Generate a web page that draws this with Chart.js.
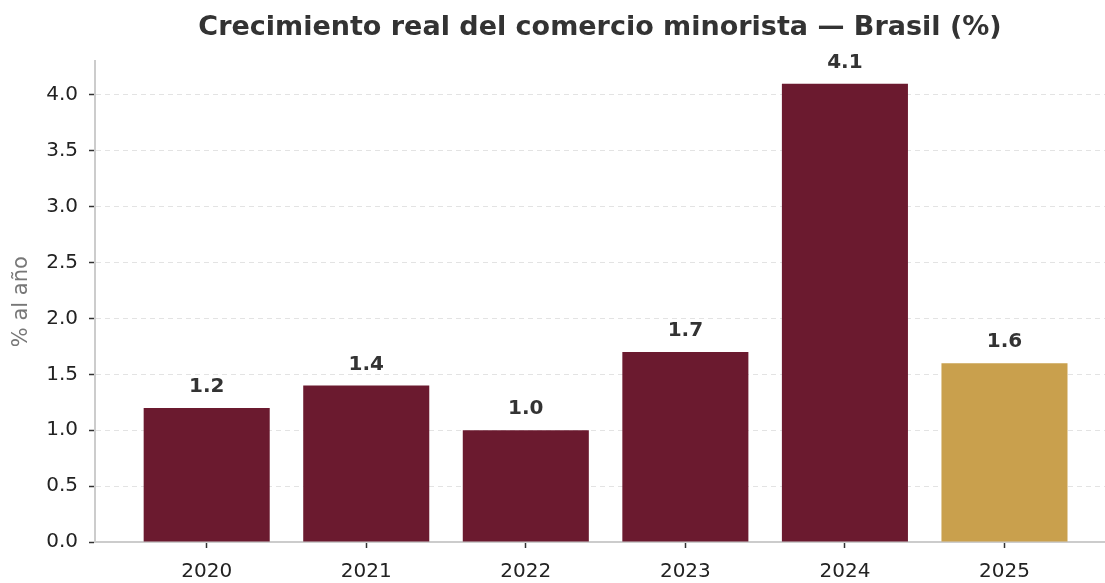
<!DOCTYPE html>
<html>
<head>
<meta charset="utf-8">
<script src="https://cdn.jsdelivr.net/npm/chart.js@4/dist/chart.umd.min.js"></script>
<style>
  html, body { margin: 0; padding: 0; background: #fff; }
  #wrap { width: 1105px; height: 583px; }
</style>
</head>
<body>
<div id="wrap"><canvas id="retailChart"></canvas></div>
<script>
const years = ['2020', '2021', '2022', '2023', '2024', '2025'];
const growth = [1.2, 1.4, 1.0, 1.7, 4.1, 1.6];
const barColors = ['#6b1a2f', '#6b1a2f', '#6b1a2f', '#6b1a2f', '#6b1a2f', '#c9a04d'];
const yTicks = [0, 0.5, 1.0, 1.5, 2.0, 2.5, 3.0, 3.5, 4.0];

const FONT = "'DejaVu Sans', sans-serif";

// draws the value above each bar
const valueLabels = {
    id: 'valueLabels',
    afterDatasetsDraw(chart) {
        const ctx = chart.ctx;
        const meta = chart.getDatasetMeta(0);
        ctx.save();
        ctx.font = 'bold 20px ' + FONT;
        ctx.fillStyle = '#333333';
        ctx.textAlign = 'center';
        ctx.textBaseline = 'middle';
        meta.data.forEach((bar, i) => {
            ctx.fillText(growth[i].toFixed(1), bar.x, bar.y - 21);
        });
        ctx.restore();
    }
};

const ctx = document.getElementById('retailChart').getContext('2d');

const chart = new Chart(ctx, {
    type: 'bar',
    data: {
        datasets: [{
            data: growth.map((v, i) => ({ x: i, y: v })),
            backgroundColor: barColors,
            borderWidth: 0,
            categoryPercentage: 1.0,
            barPercentage: 0.79
        }]
    },
    options: {
        responsive: true,
        maintainAspectRatio: false,
        animation: false,
        layout: { padding: { left: 0, right: 0, top: 0, bottom: 0 } },
        scales: {
            x: {
                type: 'linear',
                min: -0.7,
                max: 5.63,
                offset: false,
                afterBuildTicks: (scale) => {
                    scale.ticks = years.map((y, i) => ({ value: i }));
                },
                afterFit: (scale) => { scale.height = 41; },
                ticks: {
                    callback: (v) => years[v],
                    color: '#222',
                    font: { size: 20, family: FONT },
                    padding: 12
                },
                grid: {
                    offset: false,
                    drawOnChartArea: false,
                    tickLength: 6,
                    tickColor: '#333',
                    tickWidth: 1.5
                },
                border: { color: '#cccccc', width: 2 }
            },
            y: {
                min: 0,
                max: 4.3,
                afterBuildTicks: (scale) => {
                    scale.ticks = yTicks.map(v => ({ value: v }));
                },
                afterFit: (scale) => { scale.width = 95; },
                ticks: {
                    callback: (v) => v.toFixed(1),
                    color: '#222',
                    font: { size: 20, family: FONT },
                    padding: 11
                },
                grid: {
                    color: '#e3e3e3',
                    lineWidth: 1,
                    tickLength: 6,
                    tickColor: '#333',
                    tickWidth: 1.5,
                    tickBorderDash: []
                },
                border: { color: '#cccccc', width: 2, dash: [5, 4] },
                title: {
                    display: true,
                    text: '% al año',
                    color: '#777777',
                    font: { size: 21, family: FONT },
                    padding: { top: 9, bottom: 4 }
                }
            }
        },
        plugins: {
            legend: { display: false },
            tooltip: { enabled: false },
            title: {
                display: true,
                fullSize: false,
                text: 'Crecimiento real del comercio minorista — Brasil (%)',
                color: '#333333',
                font: { size: 27, family: FONT, weight: 'bold' },
                padding: { top: 12, bottom: 17 }
            }
        }
    },
    plugins: [valueLabels]
});
</script>
</body>
</html>
